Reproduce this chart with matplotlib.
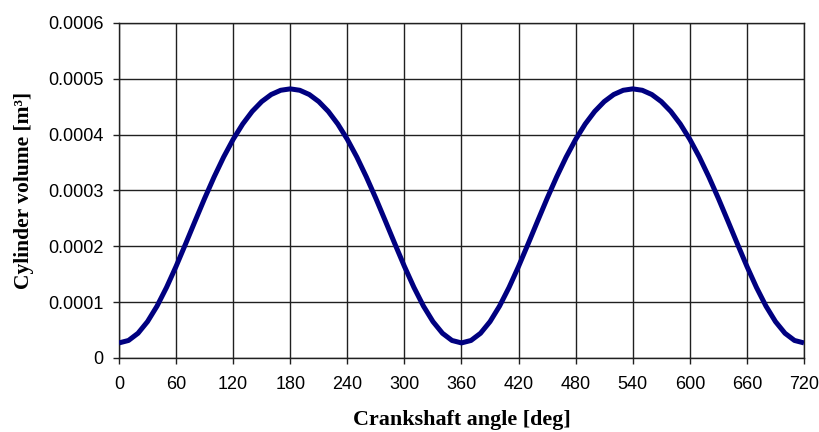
from __future__ import annotations

import matplotlib

matplotlib.use("Agg")
import matplotlib.pyplot as plt
from matplotlib.ticker import FixedLocator, FuncFormatter


# crank angle [deg] and cylinder volume [m^3], every 10 deg
ANGLE = list(range(0, 721, 10))
VOLUME = [
    0.0000270, 0.0000314, 0.0000443, 0.0000652, 0.0000930, 0.0001265,
    0.0001641, 0.0002043, 0.0002453, 0.0002858, 0.0003243, 0.0003599,
    0.0003916, 0.0004190, 0.0004416, 0.0004592, 0.0004719, 0.0004795,
    0.0004820,
    0.0004795, 0.0004719, 0.0004592, 0.0004416, 0.0004190, 0.0003916,
    0.0003599, 0.0003243, 0.0002858, 0.0002453, 0.0002043, 0.0001641,
    0.0001265, 0.0000930, 0.0000652, 0.0000443, 0.0000314,
    0.0000270,
    0.0000314, 0.0000443, 0.0000652, 0.0000930, 0.0001265, 0.0001641,
    0.0002043, 0.0002453, 0.0002858, 0.0003243, 0.0003599, 0.0003916,
    0.0004190, 0.0004416, 0.0004592, 0.0004719, 0.0004795,
    0.0004820,
    0.0004795, 0.0004719, 0.0004592, 0.0004416, 0.0004190, 0.0003916,
    0.0003599, 0.0003243, 0.0002858, 0.0002453, 0.0002043, 0.0001641,
    0.0001265, 0.0000930, 0.0000652, 0.0000443, 0.0000314,
    0.0000270,
]

X_TICKS = list(range(0, 721, 60))
Y_TICKS = [0.0, 0.0001, 0.0002, 0.0003, 0.0004, 0.0005, 0.0006]

TICK_FONT = "Liberation Sans"
LABEL_FONT = "Liberation Serif"


def y_fmt(v: float, _pos: int) -> str:
    return "0" if abs(v) < 1e-12 else f"{v:.4f}"


def main() -> None:
    fig = plt.figure(figsize=(8.2, 4.32), dpi=100)
    ax = fig.add_axes([0.1451, 0.1713, 0.8354, 0.7755])

    ax.plot(ANGLE, VOLUME, color="#000080", linewidth=3.6, solid_capstyle="butt", zorder=3)

    ax.set_xlim(0, 720)
    ax.set_ylim(0, 0.0006)
    ax.xaxis.set_major_locator(FixedLocator(X_TICKS))
    ax.yaxis.set_major_locator(FixedLocator(Y_TICKS))
    ax.yaxis.set_major_formatter(FuncFormatter(y_fmt))

    ax.grid(True, color="#202020", linewidth=1.0)
    ax.set_axisbelow(True)
    for spine in ax.spines.values():
        spine.set_color("#202020")
        spine.set_linewidth(1.0)

    ax.tick_params(axis="both", direction="out", length=4, width=1.0, color="#202020",
                   labelsize=13)
    ax.tick_params(axis="x", pad=9)
    ax.tick_params(axis="y", pad=7)
    for lbl in ax.get_xticklabels() + ax.get_yticklabels():
        lbl.set_fontfamily(TICK_FONT)

    ax.set_xlabel("Crankshaft angle [deg]", fontfamily=LABEL_FONT, fontweight="bold",
                  fontsize=15.8, labelpad=12)
    ax.set_ylabel("Cylinder volume [m³]", fontfamily=LABEL_FONT, fontweight="bold",
                  fontsize=15.5, labelpad=10)

    fig.savefig("out.png", dpi=100)
    plt.close(fig)


if __name__ == "__main__":
    main()
